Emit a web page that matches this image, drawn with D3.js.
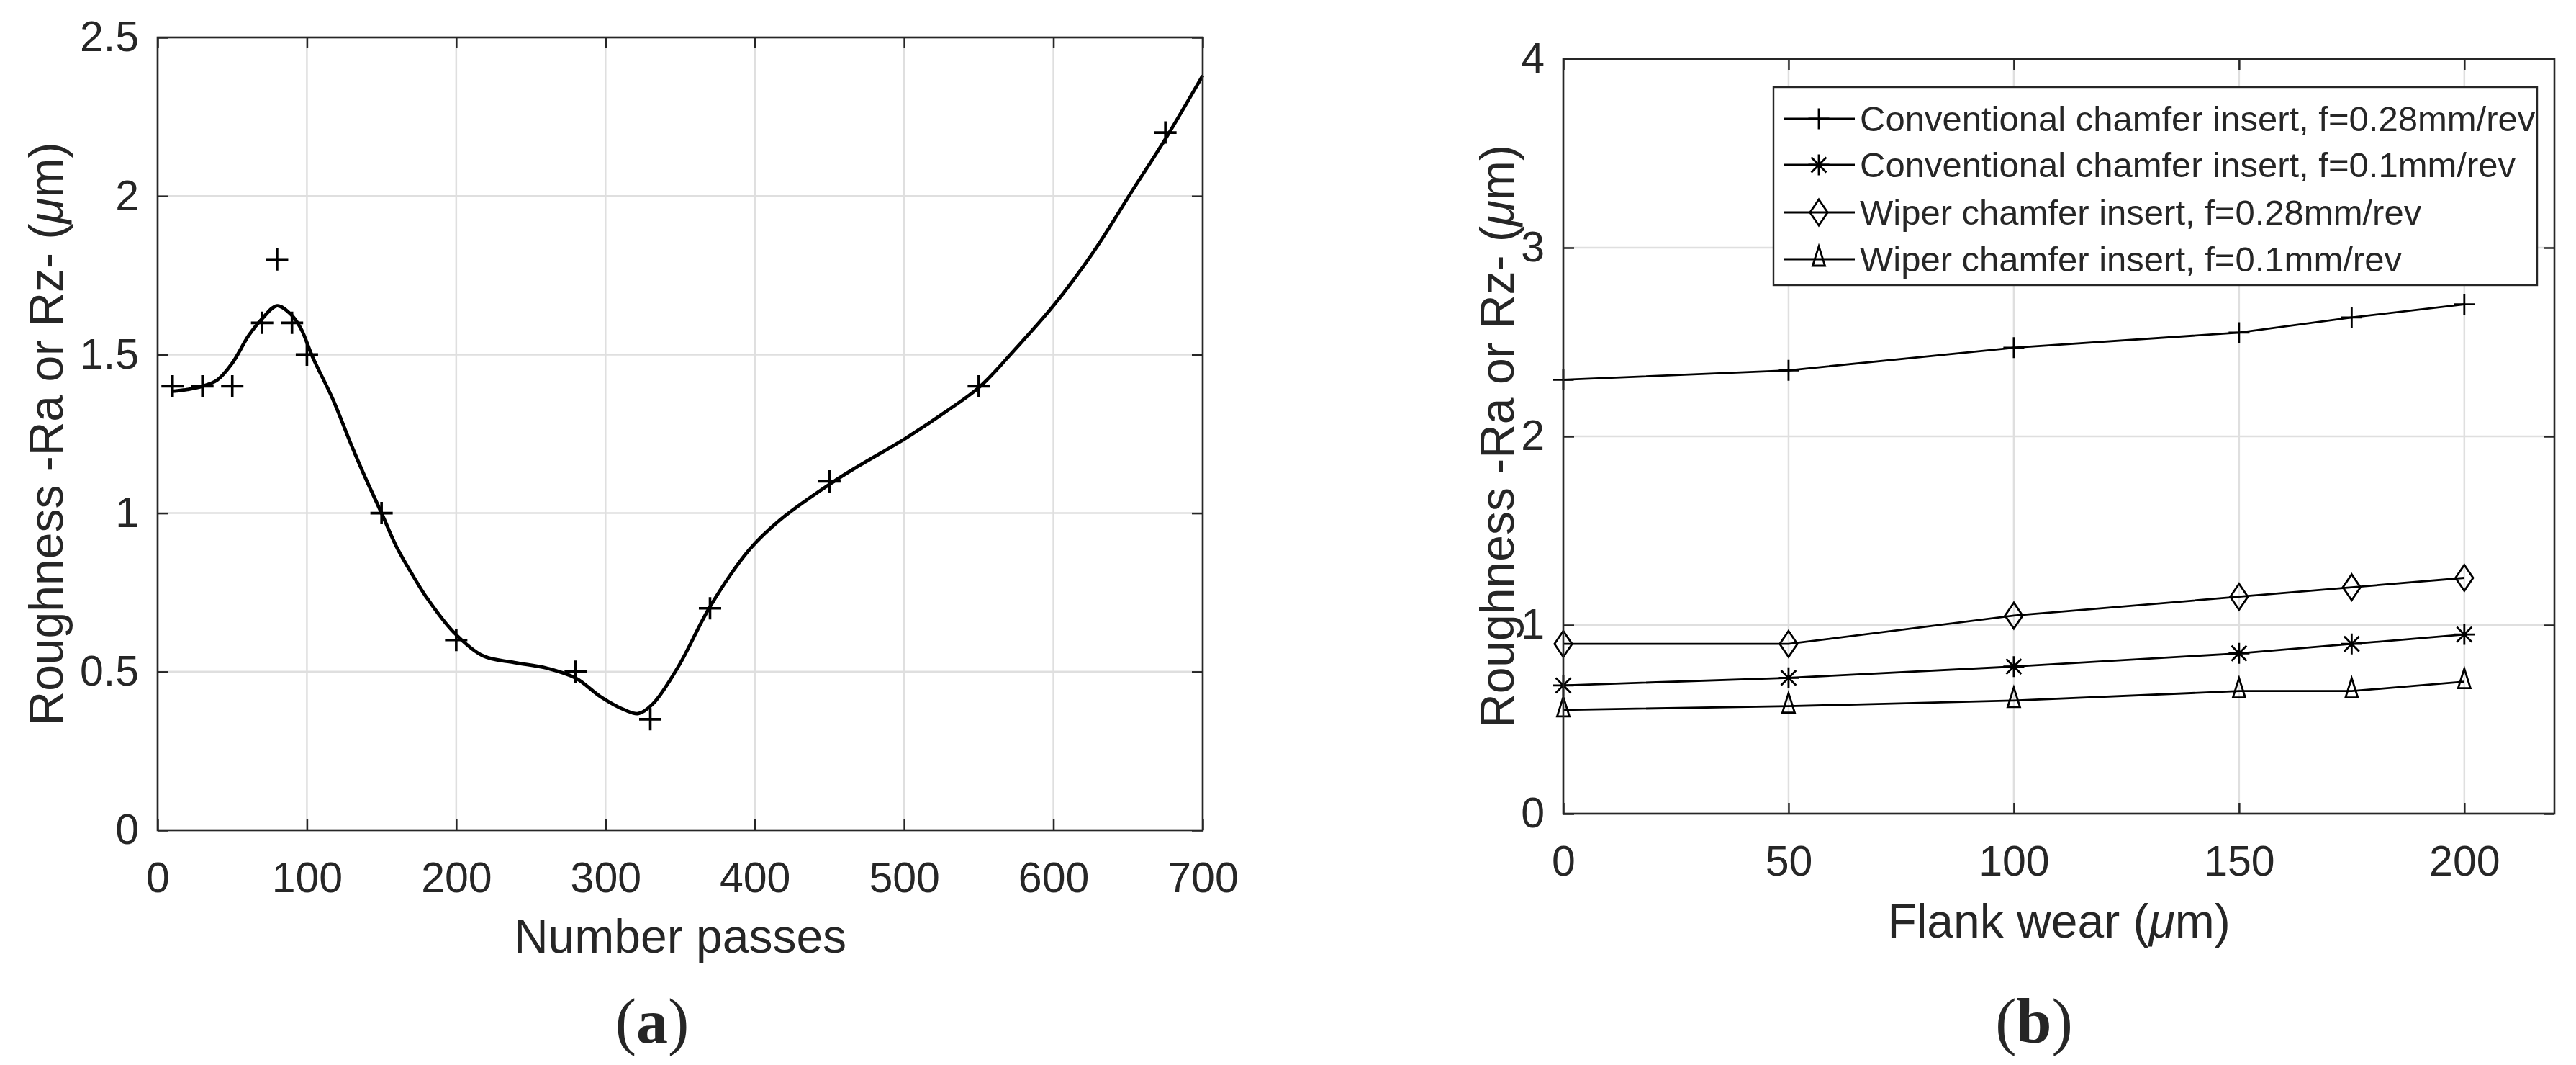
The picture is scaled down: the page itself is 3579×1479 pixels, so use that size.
<!DOCTYPE html>
<html>
<head>
<meta charset="utf-8">
<script src="https://cdn.jsdelivr.net/npm/d3@7"></script>
<style>
  html, body { margin: 0; padding: 0; background: #fff; }
  svg { display: block; }
  text { font-family: "Liberation Sans", Arial, sans-serif; fill: #262626; }
</style>
</head>
<body>
<svg id="chart" width="3579" height="1479"></svg>
<script>
// ---------- Data: chart (a) ----------
const passes   = [10, 30, 50, 70, 80, 90, 100, 150, 200, 280, 330, 370, 450, 550, 675];
const roughA   = [1.4, 1.4, 1.4, 1.6, 1.8, 1.6, 1.5, 1.0, 0.6, 0.5, 0.35, 0.7, 1.1, 1.4, 2.2];
// fitted curve
const fitPasses = [10, 20, 30, 40, 50, 61, 70, 80, 89, 96, 104, 117, 130, 139, 150, 160, 171, 180, 198, 218, 239, 260, 280, 297, 313, 322, 332, 349, 370, 396, 417, 452, 470, 501, 527, 551, 574, 600, 627, 653, 675, 700];
const fitRough  = [1.384, 1.39, 1.40, 1.42, 1.473, 1.56, 1.613, 1.654, 1.628, 1.582, 1.49, 1.363, 1.212, 1.113, 1.0, 0.894, 0.803, 0.735, 0.626, 0.55, 0.529, 0.512, 0.48, 0.42, 0.379, 0.368, 0.40, 0.518, 0.705, 0.883, 0.979, 1.097, 1.15, 1.236, 1.317, 1.40, 1.515, 1.654, 1.825, 2.018, 2.18, 2.38];
const xTicksA = [0, 100, 200, 300, 400, 500, 600, 700];
const yTicksA = [0, 0.5, 1, 1.5, 2, 2.5];

// ---------- Data: chart (b) ----------
const flankWear  = [0, 50, 100, 150, 175, 200];
const convF028   = [2.30, 2.35, 2.47, 2.55, 2.63, 2.70];
const convF01    = [0.68, 0.72, 0.78, 0.85, 0.90, 0.95];
const wiperF028  = [0.90, 0.90, 1.05, 1.15, 1.20, 1.25];
const wiperF01   = [0.55, 0.57, 0.60, 0.65, 0.65, 0.70];
const seriesNames = [
  "Conventional chamfer insert, f=0.28mm/rev",
  "Conventional chamfer insert, f=0.1mm/rev",
  "Wiper chamfer insert, f=0.28mm/rev",
  "Wiper chamfer insert, f=0.1mm/rev"
];
const seriesMarkers = ["plus", "star", "diamond", "triangle"];
const xTicksB = [0, 50, 100, 150, 200];
const yTicksB = [0, 1, 2, 3, 4];

// ---------- helpers ----------
const svg = d3.select("#chart");
const AX = "#262626", GRID = "#dfdfdf";
const TICK_FS = 59, LABEL_FS = 66;

function markerPath(type, s) {
  if (type === "plus") return `M${-s},0H${s}M0,${-s}V${s}`;
  if (type === "star") {
    const d = s * 0.72;
    return `M${-s},0H${s}M0,${-s}V${s}M${-d},${-d}L${d},${d}M${-d},${d}L${d},${-d}`;
  }
  if (type === "diamond") { const w = s * 0.68; return `M0,${-s}L${w},0L0,${s}L${-w},0Z`; }
  if (type === "triangle") { const h = s * 0.62; return `M0,${-2*h}L${h*0.95},${h}L${-h*0.95},${h}Z`; }
}

function frame(g, x, y, xt, yt, w, h, xfmt, yfmt) {
  g.append("g").selectAll("line").data(xt).join("line")
    .attr("x1", d => x(d)).attr("x2", d => x(d)).attr("y1", 0).attr("y2", h)
    .attr("stroke", GRID).attr("stroke-width", 2.5);
  g.append("g").selectAll("line").data(yt).join("line")
    .attr("y1", d => y(d)).attr("y2", d => y(d)).attr("x1", 0).attr("x2", w)
    .attr("stroke", GRID).attr("stroke-width", 2.5);
  const ax = [
    g.append("g").attr("transform", `translate(0,${h})`)
      .call(d3.axisBottom(x).tickValues(xt).tickSize(-15).tickPadding(44).tickFormat(xfmt)),
    g.append("g")
      .call(d3.axisTop(x).tickValues(xt).tickSize(-15).tickFormat("")),
    g.append("g")
      .call(d3.axisLeft(y).tickValues(yt).tickSize(-15).tickPadding(26).tickFormat(yfmt)),
    g.append("g").attr("transform", `translate(${w},0)`)
      .call(d3.axisRight(y).tickValues(yt).tickSize(-15).tickFormat(""))
  ];
  ax.forEach(a => {
    a.select(".domain").remove();
    a.selectAll(".tick line").attr("stroke", AX).attr("stroke-width", 2.5);
    a.selectAll(".tick text").attr("font-size", TICK_FS).attr("fill", AX)
      .style("font-family", '"Liberation Sans", Arial, sans-serif');
  });
}
function box(g, w, h) {
  g.append("rect").attr("x", 0).attr("y", 0).attr("width", w).attr("height", h)
    .attr("fill", "none").attr("stroke", AX).attr("stroke-width", 2.6);
}
function yLabel(g, xpos, ycenter) {
  const t = g.append("text").attr("transform", `translate(${xpos},${ycenter}) rotate(-90)`)
    .attr("text-anchor", "middle").attr("font-size", LABEL_FS);
  t.append("tspan").text("Roughness -Ra or Rz- (");
  t.append("tspan").attr("font-style", "italic").text("\u03bc");
  t.append("tspan").text("m)");
}
function caption(cx, letter) {
  const cap = svg.append("text").attr("x", cx).attr("y", 1448)
    .attr("text-anchor", "middle").attr("font-size", 88)
    .style("font-family", '"Liberation Serif", "Times New Roman", serif').attr("fill", "#000");
  cap.append("tspan").text("(");
  cap.append("tspan").attr("font-weight", "bold").text(letter);
  cap.append("tspan").text(")");
}

// ---------- Chart (a) ----------
{
  const L = {x0: 219, x1: 1671, y0: 52, y1: 1153};
  const w = L.x1 - L.x0, h = L.y1 - L.y0;
  const g = svg.append("g").attr("transform", `translate(${L.x0},${L.y0})`);
  const x = d3.scaleLinear().domain([0, 700]).range([0, w]);
  const y = d3.scaleLinear().domain([0, 2.5]).range([h, 0]);
  frame(g, x, y, xTicksA, yTicksA, w, h, d3.format("d"), d => d3.format("")(d));

  const fit = fitPasses.map((p, i) => [p, fitRough[i]]);
  g.append("path").datum(fit)
    .attr("d", d3.line().x(d => x(d[0])).y(d => y(d[1])).curve(d3.curveCatmullRom.alpha(0.5)))
    .attr("fill", "none").attr("stroke", "#000").attr("stroke-width", 4.8).attr("stroke-linejoin", "round");

  g.append("g").selectAll("path").data(passes.map((p, i) => [p, roughA[i]])).join("path")
    .attr("transform", d => `translate(${x(d[0])},${y(d[1])})`)
    .attr("d", markerPath("plus", 15.5))
    .attr("fill", "none").attr("stroke", "#000").attr("stroke-width", 3.6);

  box(g, w, h);
  g.append("text").attr("x", w / 2).attr("y", h + 170).attr("text-anchor", "middle")
    .attr("font-size", LABEL_FS).text("Number passes");
  yLabel(g, 87 - L.x0, h / 2);
  caption(906, "a");
}

// ---------- Chart (b) ----------
{
  const R = {x0: 2172, x1: 3549, y0: 82, y1: 1130};
  const w = R.x1 - R.x0, h = R.y1 - R.y0;
  const g = svg.append("g").attr("transform", `translate(${R.x0},${R.y0})`);
  const x = d3.scaleLinear().domain([0, 220]).range([0, w]);
  const y = d3.scaleLinear().domain([0, 4]).range([h, 0]);
  frame(g, x, y, xTicksB, yTicksB, w, h, d3.format("d"), d3.format("d"));

  const allSeries = [convF028, convF01, wiperF028, wiperF01];
  const line = d3.line().x(d => x(d[0])).y(d => y(d[1]));
  allSeries.forEach((vals, si) => {
    const pts = flankWear.map((f, i) => [f, vals[i]]);
    g.append("path").datum(pts).attr("d", line)
      .attr("fill", "none").attr("stroke", "#000").attr("stroke-width", 2.8);
    g.append("g").selectAll("path").data(pts).join("path")
      .attr("transform", d => `translate(${x(d[0])},${y(d[1])})`)
      .attr("d", markerPath(seriesMarkers[si], seriesMarkers[si] === "diamond" ? 18 : 14.5))
      .attr("fill", "none").attr("stroke", "#000").attr("stroke-width", 2.8)
      .attr("stroke-linejoin", "miter");
  });

  box(g, w, h);

  // legend
  const lg = svg.append("g");
  lg.append("rect").attr("x", 2464).attr("y", 121).attr("width", 3525 - 2464).attr("height", 396 - 121)
    .attr("fill", "#fff").attr("stroke", AX).attr("stroke-width", 2.4);
  const rowY = [165, 229, 295, 360];
  seriesNames.forEach((name, i) => {
    lg.append("line").attr("x1", 2478).attr("x2", 2577).attr("y1", rowY[i]).attr("y2", rowY[i])
      .attr("stroke", "#000").attr("stroke-width", 2.8);
    lg.append("path").attr("transform", `translate(2527,${rowY[i]})`)
      .attr("d", markerPath(seriesMarkers[i], seriesMarkers[i] === "diamond" ? 18 : 14.5))
      .attr("fill", "none").attr("stroke", "#000").attr("stroke-width", 2.8);
    lg.append("text").attr("x", 2584).attr("y", rowY[i]).attr("dy", "0.35em")
      .attr("font-size", 49).attr("fill", "#000").text(name);
  });

  const xl = g.append("text").attr("x", w / 2).attr("y", h + 172).attr("text-anchor", "middle")
    .attr("font-size", LABEL_FS);
  xl.append("tspan").text("Flank wear (");
  xl.append("tspan").attr("font-style", "italic").text("\u03bc");
  xl.append("tspan").text("m)");
  yLabel(g, 2103 - R.x0, h / 2);
  caption(2826, "b");
}
</script>
</body>
</html>
